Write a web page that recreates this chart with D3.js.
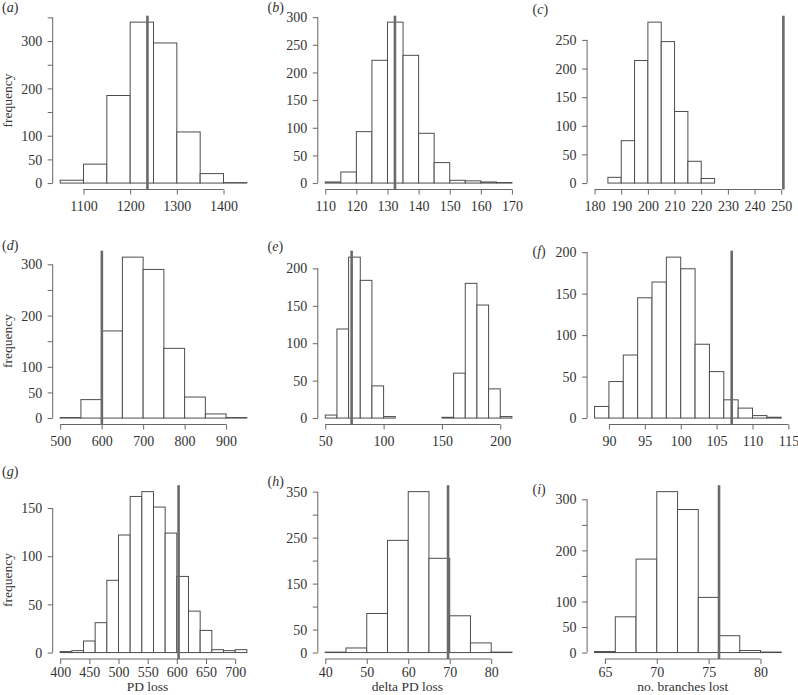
<!DOCTYPE html>
<html><head><meta charset="utf-8">
<script src="https://cdn.jsdelivr.net/npm/d3@7"></script>
<style>
html,body{margin:0;padding:0;background:#fff;}
svg text{font-family:"Liberation Serif","DejaVu Serif",serif;fill:#333;}
</style></head>
<body><svg id="chart" width="798" height="695"></svg>
<script>
// ---------- data ----------
const panelLetters = ["a","b","c","d","e","f","g","h","i"];
const xTitles = ["", "", "", "", "", "", "PD loss", "delta PD loss", "no. branches lost"];
const yTitles = ["frequency", "", "", "frequency", "", "", "frequency", "", ""];

const breaksA = [1050,1100,1150,1200,1250,1300,1350,1400,1450];
const countsA = [6,40,185,340,296,108,20,1];
const breaksB = [110,115,120,125,130,135,140,145,150,155,160,165,170];
const countsB = [2,20,93,222,291,231,90,37,5,4,2,1];
const breaksC = [185,190,195,200,205,210,215,220,225];
const countsC = [10,74,214,281,247,125,38,8];
const breaksD = [500,550,600,650,700,750,800,850,900,950];
const countsD = [1,36,170,314,290,136,41,8,1];
const breaksE = [50,60,70,80,90,100,110,120,130,140,150,160,170,180,190,200,210];
const countsE = [4,119,215,184,43,2,0,0,0,0,1,60,180,151,39,2];
const breaksF = [88,90,92,94,96,98,100,102,104,106,108,110,112,114];
const countsF = [14,44,76,145,164,194,180,89,56,22,12,3,1];
const breaksG = [400,420,440,460,480,500,520,540,560,580,600,620,640,660,680,700,720];
const countsG = [1,2,12,31,75,122,162,167,151,124,79,43,23,3,2,3];
const breaksH = [40,45,50,55,60,65,70,75,80,85];
const countsH = [1,10,85,244,350,205,80,21,1];
const breaksI = [64,66,68,70,72,74,76,78,80,82];
const countsI = [2,70,183,315,280,108,33,4,1];

const observed = [1237, 132.4, 250.8, 600.5, 72.6, 107.1, 603, 69.6, 76.0];

const xTicksA = [1100,1200,1300,1400];
const xTicksB = [110,120,130,140,150,160,170];
const xTicksC = [180,190,200,210,220,230,240,250];
const xTicksD = [500,600,700,800,900];
const xTicksE = [50,100,150,200];
const xTicksF = [90,95,100,105,110,115];
const xTicksG = [400,450,500,550,600,650,700];
const xTicksH = [40,50,60,70,80];
const xTicksI = [65,70,75,80];

const yTicksA = [0,50,100,150,200,250,300,350];
const yLabelsA = [0,50,100,200,300];
const yTicksB = [0,50,100,150,200,250,300];
const yLabelsB = [0,50,100,150,200,250,300];
const yTicksC = [0,50,100,150,200,250];
const yLabelsC = [0,50,100,150,200,250];
const yTicksD = [0,50,100,150,200,250,300];
const yLabelsD = [0,50,100,200,300];
const yTicksE = [0,50,100,150,200];
const yLabelsE = [0,50,100,150,200];
const yTicksF = [0,50,100,150,200];
const yLabelsF = [0,50,100,150,200];
const yTicksG = [0,50,100,150];
const yLabelsG = [0,50,100,150];
const yTicksH = [0,50,100,150,200,250,300,350];
const yLabelsH = [0,50,150,250,350];
const yTicksI = [0,50,100,150,200,250,300];
const yLabelsI = [0,50,100,200,300];

// x limits (before the 4% extension); panel c uses a fixed range
const xLimC = [180, 250];

// ---------- assemble ----------
const breaksAll = [breaksA,breaksB,breaksC,breaksD,breaksE,breaksF,breaksG,breaksH,breaksI];
const countsAll = [countsA,countsB,countsC,countsD,countsE,countsF,countsG,countsH,countsI];
const xTicksAll = [xTicksA,xTicksB,xTicksC,xTicksD,xTicksE,xTicksF,xTicksG,xTicksH,xTicksI];
const yTicksAll = [yTicksA,yTicksB,yTicksC,yTicksD,yTicksE,yTicksF,yTicksG,yTicksH,yTicksI];
const yLabelsAll = [yLabelsA,yLabelsB,yLabelsC,yLabelsD,yLabelsE,yLabelsF,yLabelsG,yLabelsH,yLabelsI];

// ---------- layout ----------
const colLeft = [52.7, 317.8, 587.1];
const plotW = 201.6;
const rowTop = [15.7, 250.7, 485.2];
const plotH = 173.8;
const xLabelOffset = [21.2, 21.6, 17.6];
const letterPos = [[2,11.5],[267.5,11.5],[532.5,13.5],[2,249.5],[267.5,250.5],[532.5,255.5],[2,475.5],[267.5,485.5],[532.5,493.5]];
const yTitleCY = [100.5, 341, 580];
const xTitleCX = [147.5, 407.5, 682.8];
const FS = 14;

const svg = d3.select("#chart");

for (let p = 0; p < 9; p++) {
  const r = Math.floor(p / 3), c = p % 3;
  const breaks = breaksAll[p], counts = countsAll[p];
  const lim = p === 2 ? xLimC : d3.extent(breaks);
  const span = lim[1] - lim[0];
  const left = colLeft[c], top = rowTop[r];
  const x = d3.scaleLinear().domain([lim[0] - 0.04 * span, lim[1] + 0.04 * span]).range([left, left + plotW]);
  const ymax = d3.max(counts);
  const y = d3.scaleLinear().domain([-0.04 * ymax, 1.04 * ymax]).range([top + plotH, top]);
  const g = svg.append("g");

  // bars
  const bins = counts.map((v, i) => ({x0: breaks[i], x1: breaks[i + 1], v}));
  g.selectAll("rect.bar").data(bins).join("rect")
    .attr("class", "bar")
    .attr("x", d => x(d.x0)).attr("width", d => x(d.x1) - x(d.x0))
    .attr("y", d => y(d.v)).attr("height", d => y(0) - y(d.v))
    .attr("fill", "#fff").attr("stroke", "#4d4d4d").attr("stroke-width", 1);

  // observed value line
  g.append("line")
    .attr("x1", x(observed[p])).attr("x2", x(observed[p]))
    .attr("y1", y.range()[1]).attr("y2", y.range()[0])
    .attr("stroke", "#6a6a6a").attr("stroke-width", 2.6);

  // x axis
  const xt = xTicksAll[p];
  const xa = g.append("g").attr("transform", `translate(0,${top + plotH})`)
    .call(d3.axisBottom(x).tickValues(xt).tickSize(5).tickSizeOuter(0).tickFormat(d3.format("d")));
  xa.attr("font-family", null).attr("font-size", null);
  xa.select(".domain").remove();
  xa.append("line").attr("x1", x(xt[0])).attr("x2", x(xt[xt.length - 1]))
    .attr("stroke", "#666").attr("stroke-width", 1);
  xa.selectAll(".tick line").attr("stroke", "#666");
  xa.selectAll(".tick text").attr("y", xLabelOffset[r]).attr("dy", null)
    .style("font-size", FS + "px").attr("fill", "#333");

  // y axis
  const yt = yTicksAll[p], yl = yLabelsAll[p];
  const ya = g.append("g").attr("transform", `translate(${left},0)`)
    .call(d3.axisLeft(y).tickValues(yt).tickSize(5).tickSizeOuter(0)
      .tickFormat(d => yl.includes(d) ? d3.format("d")(d) : ""));
  ya.attr("font-family", null).attr("font-size", null);
  ya.select(".domain").remove();
  ya.append("line").attr("y1", y(yt[0])).attr("y2", y(yt[yt.length - 1]))
    .attr("stroke", "#666").attr("stroke-width", 1);
  ya.selectAll(".tick line").attr("stroke", "#666");
  ya.selectAll(".tick text").attr("x", -10.5).attr("dy", "0.33em")
    .style("font-size", FS + "px").attr("fill", "#333");

  // panel letter
  const lt = svg.append("text").attr("x", letterPos[p][0]).attr("y", letterPos[p][1])
    .style("font-size", FS + "px");
  lt.append("tspan").text("(");
  lt.append("tspan").style("font-style", "italic").text(panelLetters[p]);
  lt.append("tspan").text(")");

  // titles
  if (yTitles[p]) {
    svg.append("text").attr("transform", `translate(12.2,${yTitleCY[r]}) rotate(-90)`)
      .attr("text-anchor", "middle").style("font-size", "13.5px").text(yTitles[p]);
  }
  if (xTitles[p]) {
    svg.append("text").attr("x", xTitleCX[c]).attr("y", 691)
      .attr("text-anchor", "middle").style("font-size", "13.5px").text(xTitles[p]);
  }
}
</script></body></html>
